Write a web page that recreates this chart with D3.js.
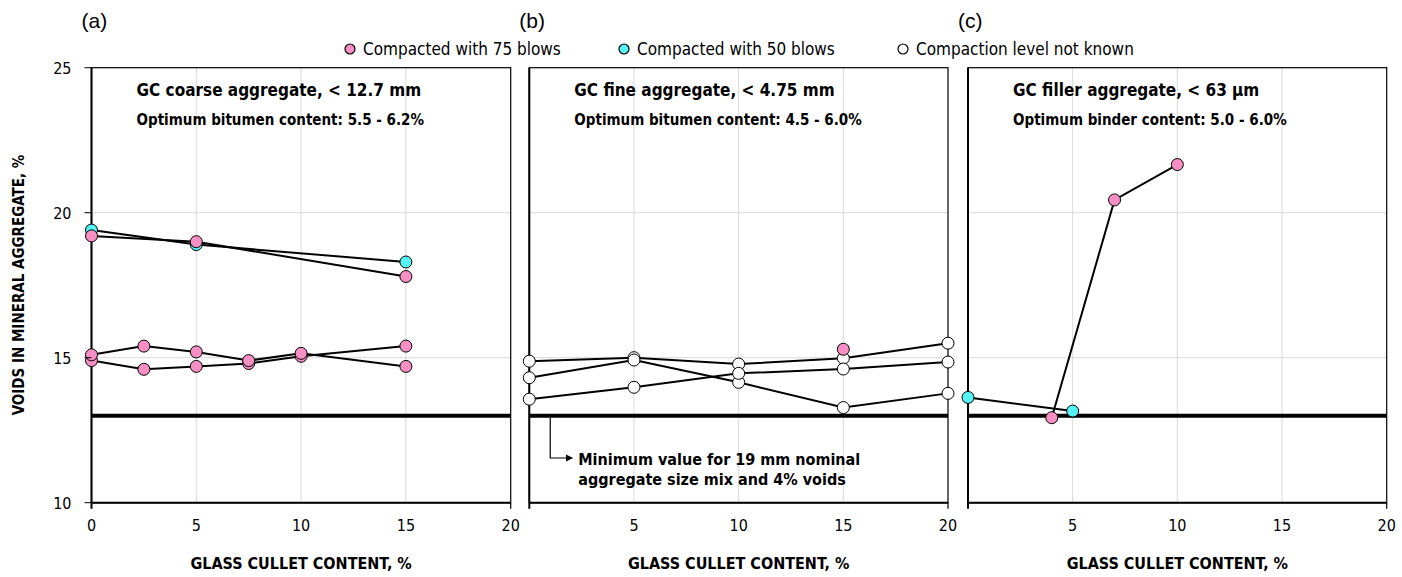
<!DOCTYPE html>
<html><head><meta charset="utf-8">
<script src="https://cdn.jsdelivr.net/npm/d3@7"></script>
<style>
html,body{margin:0;padding:0;background:#fff;}
svg{display:block;}
text{font-family:"DejaVu Sans Condensed","DejaVu Sans",sans-serif;fill:#000;}
</style></head>
<body>
<svg id="chart" width="1402" height="577"></svg>
<script>
// ---------- data ----------
const panelLetters = ["(a)", "(b)", "(c)"];
const panelTitles = ["GC coarse aggregate, < 12.7 mm", "GC fine aggregate, < 4.75 mm", "GC filler aggregate, < 63 µm"];
const panelSubtitles = ["Optimum bitumen content: 5.5 - 6.2%", "Optimum bitumen content: 4.5 - 6.0%", "Optimum binder content: 5.0 - 6.0%"];
const xTicksA = [0, 5, 10, 15, 20];
const xTicksB = [5, 10, 15, 20];
const xTicksC = [5, 10, 15, 20];
const yTicks = [10, 15, 20, 25];
const minimumVMA = 13;
const legendLabels = ["Compacted with 75 blows", "Compacted with 50 blows", "Compaction level not known"];

// panel (a)
const a_cyan_x = [0, 5, 15];          const a_cyan_y = [19.4, 18.9, 18.3];
const a_pink1_x = [0, 5, 15];         const a_pink1_y = [19.2, 19.0, 17.8];
const a_pink2_x = [0, 2.5, 5, 7.5, 10, 15]; const a_pink2_y = [15.1, 15.4, 15.2, 14.9, 15.15, 14.7];
const a_pink3_x = [0, 2.5, 5, 7.5, 10, 15]; const a_pink3_y = [14.9, 14.6, 14.7, 14.8, 15.05, 15.4];
// panel (b)
const b_white1_x = [0, 5, 10, 15, 20]; const b_white1_y = [14.88, 15.0, 14.78, 14.98, 15.5];
const b_white2_x = [0, 5, 10, 15, 20]; const b_white2_y = [14.31, 14.92, 14.15, 13.28, 13.77];
const b_white3_x = [0, 5, 10, 15, 20]; const b_white3_y = [13.57, 13.98, 14.46, 14.61, 14.85];
const b_pink_x = [15];                 const b_pink_y = [15.29];
// panel (c)
const c_cyan_x = [0, 5];               const c_cyan_y = [13.63, 13.16];
const c_pink_x = [4, 7, 10];           const c_pink_y = [12.93, 20.44, 21.66];

const PINK = "#f78fc4", CYAN = "#55f3f3", WHITE = "#ffffff";

const panels = [
  {x0: 91.5, x1: 510.7, ticks: xTicksA, series: [
    {x: a_cyan_x, y: a_cyan_y, fill: CYAN, line: true},
    {x: a_pink1_x, y: a_pink1_y, fill: PINK, line: true},
    {x: a_pink3_x, y: a_pink3_y, fill: PINK, line: true},
    {x: a_pink2_x, y: a_pink2_y, fill: PINK, line: true}]},
  {x0: 529.3, x1: 948, ticks: xTicksB, series: [
    {x: b_white1_x, y: b_white1_y, fill: WHITE, line: true},
    {x: b_white2_x, y: b_white2_y, fill: WHITE, line: true},
    {x: b_white3_x, y: b_white3_y, fill: WHITE, line: true},
    {x: b_pink_x, y: b_pink_y, fill: PINK, line: false}]},
  {x0: 968, x1: 1386.7, ticks: xTicksC, series: [
    {x: c_cyan_x, y: c_cyan_y, fill: CYAN, line: true},
    {x: c_pink_x, y: c_pink_y, fill: PINK, line: true}]}
];

const svg = d3.select("#chart");
const y = d3.scaleLinear().domain([10, 25]).range([502.7, 67.7]);
const R = 6;

panels.forEach((p, i) => {
  const x = d3.scaleLinear().domain([0, 20]).range([p.x0, p.x1]);
  const g = svg.append("g");
  // gridlines
  g.selectAll(".vg").data([5, 10, 15]).join("line")
    .attr("x1", d => x(d)).attr("x2", d => x(d)).attr("y1", y(25)).attr("y2", y(10))
    .attr("stroke", "#d9d9d9").attr("stroke-width", 1);
  g.selectAll(".hg").data([15, 20]).join("line")
    .attr("x1", x(0)).attr("x2", x(20)).attr("y1", d => y(d)).attr("y2", d => y(d))
    .attr("stroke", "#d9d9d9").attr("stroke-width", 1);
  // box
  g.append("rect").attr("x", x(0)).attr("y", y(25)).attr("width", x(20) - x(0)).attr("height", y(10) - y(25))
    .attr("fill", "none").attr("stroke", "#000").attr("stroke-width", 1.2);
  g.append("line").attr("x1", x(0)).attr("x2", x(0)).attr("y1", y(25)).attr("y2", y(10) + 6)
    .attr("stroke", "#000").attr("stroke-width", 2);
  g.append("line").attr("x1", x(20)).attr("x2", x(20)).attr("y1", y(10)).attr("y2", y(10) + 6)
    .attr("stroke", "#000").attr("stroke-width", 1.2);
  g.append("line").attr("x1", x(0)).attr("x2", x(20)).attr("y1", y(10)).attr("y2", y(10))
    .attr("stroke", "#000").attr("stroke-width", 2);
  // x tick labels
  g.selectAll(".xt").data(p.ticks).join("text")
    .attr("x", d => x(d)).attr("y", 531).attr("text-anchor", "middle")
    .attr("font-size", 16).text(d => d);
  // x axis title
  g.append("text").attr("x", (x(0) + x(20)) / 2).attr("y", 569).attr("text-anchor", "middle")
    .attr("font-size", 16).attr("font-weight", "bold").text("GLASS CULLET CONTENT, %");
  // minimum line
  g.append("line").attr("x1", x(0)).attr("x2", x(20)).attr("y1", y(minimumVMA)).attr("y2", y(minimumVMA))
    .attr("stroke", "#000").attr("stroke-width", 4);
  // titles
  g.append("text").attr("x", x(0) + 45).attr("y", 96).attr("font-size", 17).attr("font-weight", "bold").text(panelTitles[i]);
  g.append("text").attr("x", x(0) + 45).attr("y", 125).attr("font-size", 15).attr("font-weight", "bold").text(panelSubtitles[i]);
  // panel letter
  svg.append("text").attr("x", x(0) - 10).attr("y", 28).attr("font-size", 21)
    .style("font-family", "'Liberation Sans', Arial, sans-serif").text(panelLetters[i]);
  // series
  const line = d3.line().x(d => x(d[0])).y(d => y(d[1]));
  p.series.forEach(s => {
    const pts = s.x.map((v, k) => [v, s.y[k]]);
    if (s.line) g.append("path").attr("d", line(pts)).attr("fill", "none").attr("stroke", "#000").attr("stroke-width", 2);
  });
  p.series.forEach(s => {
    const pts = s.x.map((v, k) => [v, s.y[k]]);
    g.selectAll(null).data(pts).join("circle")
      .attr("cx", d => x(d[0])).attr("cy", d => y(d[1])).attr("r", R)
      .attr("fill", s.fill).attr("stroke", "#000").attr("stroke-width", 1);
  });
  // y axis only for panel a
  if (i === 0) {
    g.selectAll(".yt").data(yTicks).join("line")
      .attr("x1", x(0) - 7).attr("x2", x(0)).attr("y1", d => y(d)).attr("y2", d => y(d))
      .attr("stroke", "#000").attr("stroke-width", 1);
    g.selectAll(".ytl").data(yTicks).join("text")
      .attr("x", x(0) - 20).attr("y", d => y(d) + 6).attr("text-anchor", "end")
      .attr("font-size", 16).text(d => d);
  }
  // annotation in panel b
  if (i === 1) {
    const ax = x(1), ay0 = y(minimumVMA) + 2, ay1 = 458;
    svg.append("defs").append("marker").attr("id", "arr").attr("viewBox", "0 0 10 10")
      .attr("refX", 9).attr("refY", 5).attr("markerWidth", 6).attr("markerHeight", 6).attr("orient", "auto")
      .append("path").attr("d", "M0,0L10,5L0,10z").attr("fill", "#000");
    g.append("path").attr("d", `M${ax},${ay0}V${ay1}H${ax + 22}`).attr("fill", "none")
      .attr("stroke", "#000").attr("stroke-width", 1.2).attr("marker-end", "url(#arr)");
    g.append("text").attr("x", ax + 28).attr("y", 465).attr("font-size", 16).attr("font-weight", "bold")
      .text("Minimum value for 19 mm nominal");
    g.append("text").attr("x", ax + 28).attr("y", 485).attr("font-size", 16).attr("font-weight", "bold")
      .text("aggregate size mix and 4% voids");
  }
});

// y axis title
svg.append("text").attr("transform", "translate(24,285) rotate(-90)").attr("text-anchor", "middle")
  .attr("font-size", 15).attr("font-weight", "bold").text("VOIDS IN MINERAL AGGREGATE, %");

// legend
const legendX = [350, 624, 903];
const legendFill = [PINK, CYAN, WHITE];
legendLabels.forEach((t, i) => {
  svg.append("circle").attr("cx", legendX[i]).attr("cy", 49).attr("r", 5)
    .attr("fill", legendFill[i]).attr("stroke", "#000").attr("stroke-width", 1.2);
  svg.append("text").attr("x", legendX[i] + 13).attr("y", 55).attr("font-size", 17).text(t);
});
</script>
</body></html>
